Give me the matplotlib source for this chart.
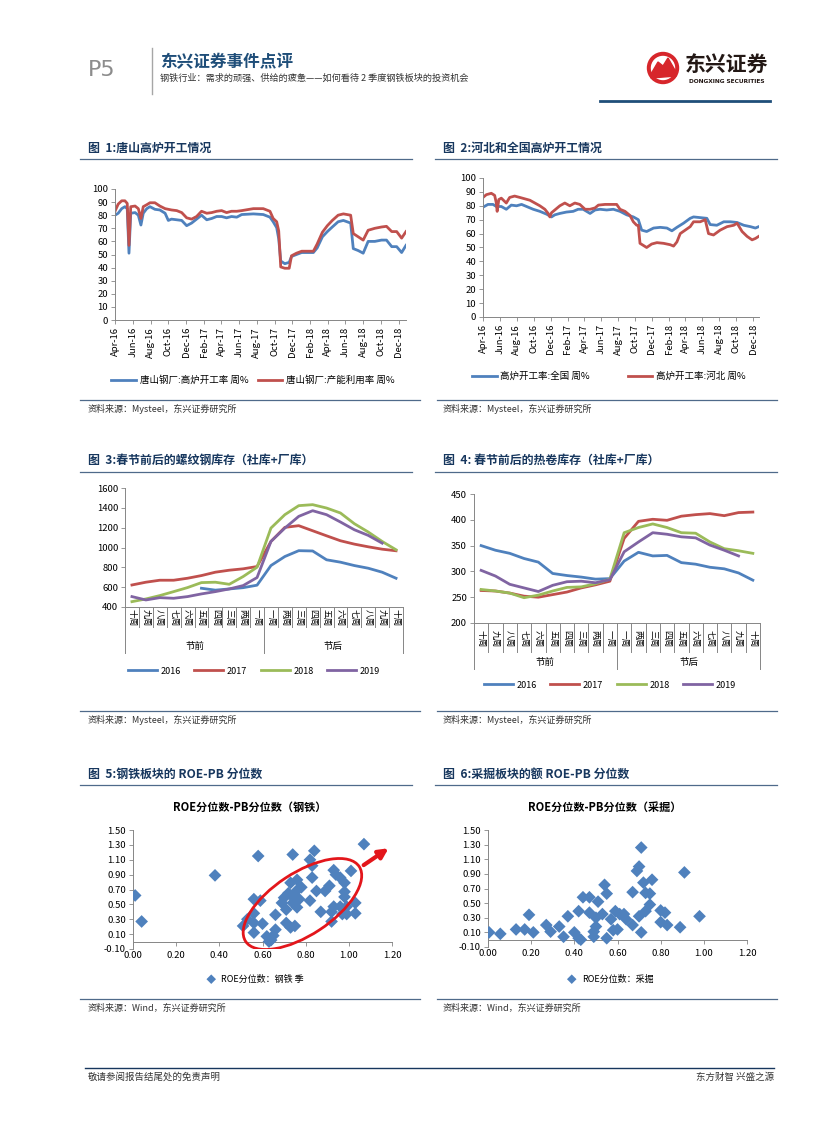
import numpy as np
import pandas as pd
import matplotlib
matplotlib.use('Agg')
import matplotlib.pyplot as plt
import matplotlib.dates as mdates
from matplotlib.patches import Ellipse, Circle, Polygon
from matplotlib.transforms import ScaledTranslation

plt.rcParams['font.family'] = ['Noto Sans CJK SC', 'DejaVu Sans']
plt.rcParams['axes.unicode_minus'] = False

# --- DATA ---
# chart 1: Tangshan (days since 2016-04-01)
t1_days = [0, 11, 23, 34, 42, 48, 54, 69, 80, 89, 97, 109, 120, 137, 154, 172, 183, 194, 212, 229,
           246, 263, 280, 297, 315, 332, 349, 366, 383, 400, 418, 435, 475, 509, 532, 543, 555, 562, 569, 583,
           598, 606, 623, 641, 681, 694, 712, 729, 746, 766, 784, 809, 818, 835, 852, 869, 892, 915, 932, 950,
           967, 984, 999]
ts_blast = [80, 81.5, 85, 86.5, 85, 51, 81.5, 82, 80, 72.5, 81.5, 85, 86.5, 84.5, 84, 81.5, 76, 77, 76.5, 76,
            72, 74, 77, 80, 76.5, 77.5, 79, 79, 78, 79, 78.5, 80.5, 81, 80.5, 78.5, 75, 70.5, 62, 45, 43,
            44, 48.5, 50, 51.5, 51.5, 55, 63.5, 67.5, 71, 75, 76, 74, 54.5, 53, 51, 60, 60, 61, 61, 56,
            56, 51.5, 57]
ts_capacity = [83, 88.5, 91, 91, 89, 57, 86.5, 87, 85, 77.5, 86.5, 88, 89.5, 89.5, 87, 85, 84.5, 84, 83.5, 82,
               78, 77, 79, 83, 81.5, 82, 83, 83.5, 82, 83, 83, 83.5, 85, 85, 83, 77.5, 75, 68, 40.5, 39.5,
               39.5, 49, 51, 52.5, 52.5, 58, 67, 72, 76, 80, 81, 80, 66, 63.5, 61, 68.5, 70, 71, 71.5, 67.5,
               67.5, 62.5, 67.5]

# chart 2: national vs Hebei
t2_nat_days = [0, 18, 36, 48, 66, 84, 102, 121, 139, 157, 181, 205, 229, 247, 259, 277, 301, 325, 343, 361,
               386, 404, 422, 446, 470, 494, 518, 542, 560, 572, 590, 615, 639, 663, 681, 699, 723, 747, 759, 783,
               807, 819, 843, 868, 892, 916, 940, 964, 982, 994]
nat_rate = [79, 81, 81, 79.5, 79.5, 77.5, 80.5, 80, 81, 79.5, 77.5, 76, 74, 72, 73.5, 74.5, 75.5, 76, 77.5, 77.5,
            74.5, 77, 77.5, 77, 77.5, 76, 73.5, 72, 70, 62.5, 61.5, 64, 64.5, 64, 62, 64.5, 67.5, 71, 72, 71.5,
            71, 66.5, 66, 68.5, 68.5, 68, 66, 65, 64, 65]
t2_hb_days = [0, 12, 30, 42, 48, 51, 57, 66, 84, 96, 114, 133, 151, 169, 187, 205, 223, 235, 241, 247,
              259, 277, 295, 313, 331, 349, 368, 386, 404, 416, 440, 464, 482, 494, 512, 530, 542, 554, 560, 566,
              590, 608, 627, 651, 675, 687, 699, 711, 729, 747, 759, 783, 801, 813, 831, 855, 880, 904, 916, 934,
              952, 970, 982, 994]
hb_rate = [86, 88, 89, 87.5, 82, 76, 84.5, 85.5, 82, 86, 87, 86, 85, 84, 82, 80, 77.5, 74.5, 72, 75,
           77, 80, 82, 80, 82, 81, 77.5, 77.5, 78.5, 80.5, 81, 81, 81, 77.5, 76, 73, 68.5, 66, 66, 53,
           50, 52.5, 53.5, 53, 52, 51, 54, 60, 62.5, 65, 68.5, 68.5, 70, 60, 59, 62.5, 65, 66, 67.5, 61.5,
           58, 55.5, 56.5, 58]

# chart 3 / 4: weeks around Spring Festival
weeks = ['十周', '九周', '八周', '七周', '六周', '五周', '四周', '三周', '两周', '一周',
         '一周', '两周', '三周', '四周', '五周', '六周', '七周', '八周', '九周', '十周']
groups = ['节前', '节后']
years = ['2016', '2017', '2018', '2019']
nan = np.nan
rebar = {
    '2016': [nan, nan, nan, nan, nan, 589, 570, 582, 595, 620, 818, 909, 968, 965, 876, 852, 818, 791, 751, 690],
    '2017': [622, 650, 670, 670, 690, 717, 751, 771, 785, 808, 1061, 1203, 1220, 1169, 1118, 1068, 1034, 1007, 983, 967],
    '2018': [454, 481, 515, 555, 596, 646, 650, 629, 707, 801, 1196, 1331, 1422, 1432, 1398, 1348, 1240, 1156, 1061, 977],
    '2019': [505, 471, 494, 488, 505, 532, 555, 582, 616, 697, 1061, 1196, 1314, 1371, 1331, 1257, 1179, 1122, 1044, nan],
}
hrc = {
    '2016': [350, 341, 335, 325, 318, 296, 292, 289, 285, 286, 320, 337, 330, 331, 317, 314, 308, 305, 297, 283],
    '2017': [263, 262, 258, 252, 250, 255, 260, 268, 274, 281, 364, 397, 401, 399, 407, 410, 412, 408, 414, 415],
    '2018': [265, 262, 258, 249, 254, 262, 269, 270, 276, 285, 375, 385, 392, 385, 375, 374, 357, 344, 340, 335],
    '2019': [302, 291, 275, 268, 261, 273, 280, 281, 278, 284, 338, 357, 375, 372, 367, 365, 351, 341, 330, nan],
}

# chart 5: steel ROE pct vs PB pct
steel_roe = [0.01, 0.04, 0.38, 0.58, 0.74, 0.84, 1.07, 0.82, 0.83, 0.83, 0.93, 0.94, 0.96, 0.98, 1.01,
             0.91, 0.89, 0.85, 0.78, 0.76, 0.73, 0.76, 0.72, 0.70, 0.69, 0.74, 0.77, 0.76, 0.82, 0.98,
             0.98, 0.93, 0.96, 0.99, 1.03, 0.87, 0.92, 0.97, 0.99, 1.03, 0.92, 0.56, 0.59, 0.56, 0.53,
             0.51, 0.56, 0.60, 0.56, 0.66, 0.71, 0.73, 0.75, 0.66, 0.62, 0.64, 0.65, 0.63, 0.71, 0.74]
steel_pb = [0.62, 0.27, 0.89, 1.15, 1.17, 1.22, 1.31, 1.10, 1.02, 0.86, 0.96, 0.90, 0.86, 0.79, 0.95,
            0.75, 0.68, 0.68, 0.73, 0.83, 0.79, 0.69, 0.65, 0.59, 0.52, 0.60, 0.57, 0.46, 0.55, 0.67,
            0.60, 0.47, 0.47, 0.47, 0.52, 0.40, 0.40, 0.37, 0.37, 0.38, 0.27, 0.57, 0.55, 0.38, 0.30,
            0.21, 0.25, 0.24, 0.12, 0.36, 0.25, 0.19, 0.21, 0.16, 0.07, 0.02, 0.08, 0.00, 0.43, 0.52]

# chart 6: mining ROE pct vs PB pct
mine_roe = [0.005, 0.057, 0.13, 0.17, 0.19, 0.21, 0.27, 0.29, 0.33, 0.35, 0.37, 0.40, 0.42, 0.43, 0.42,
            0.44, 0.47, 0.51, 0.47, 0.49, 0.49, 0.50, 0.50, 0.53, 0.54, 0.55, 0.55, 0.57, 0.58, 0.59,
            0.60, 0.61, 0.63, 0.64, 0.67, 0.67, 0.70, 0.69, 0.70, 0.71, 0.72, 0.71, 0.73, 0.75, 0.75,
            0.73, 0.76, 0.80, 0.82, 0.80, 0.83, 0.89, 0.91, 0.98]
mine_pb = [0.10, 0.08, 0.14, 0.14, 0.34, 0.10, 0.20, 0.11, 0.18, 0.04, 0.32, 0.10, 0.02, 0.00, 0.39,
           0.58, 0.58, 0.52, 0.37, 0.11, 0.04, 0.18, 0.30, 0.35, 0.75, 0.63, 0.02, 0.28, 0.13, 0.39,
           0.14, 0.35, 0.35, 0.28, 0.65, 0.20, 0.32, 0.94, 1.00, 1.26, 0.78, 0.10, 0.64, 0.63, 0.48,
           0.39, 0.82, 0.40, 0.37, 0.24, 0.20, 0.17, 0.92, 0.32]

# --- STYLE ---
W, H = 827, 1122
BLUE = '#4F81BD'
RED = '#C0504D'
GREEN = '#9BBB59'
PURPLE = '#8064A2'
year_colors = {'2016': BLUE, '2017': RED, '2018': GREEN, '2019': PURPLE}
NAVY = '#17375E'
AXIS = '#868686'
START = pd.Timestamp('2016-04-01')

fig = plt.figure(figsize=(W / 100, H / 100), dpi=100)

# background layer in pixel coords for the page decoration
bg = fig.add_axes([0, 0, 1, 1])
bg.set_xlim(0, W)
bg.set_ylim(H, 0)
bg.axis('off')


def ax_px(x0, y0, x1, y1):
    return fig.add_axes([x0 / W, 1 - y1 / H, (x1 - x0) / W, (y1 - y0) / H])


def style_axes(ax):
    for s in ['top', 'right']:
        ax.spines[s].set_visible(False)
    for s in ['left', 'bottom']:
        ax.spines[s].set_color(AXIS)
        ax.spines[s].set_linewidth(0.7)
    ax.tick_params(labelsize=6.8, length=3, width=0.6, color=AXIS, pad=2)
    ax.patch.set_alpha(0)


def fig_xy(x, y):
    return (x / W, 1 - y / H)


# --- PAGE HEADER ---
bg.text(102, 70, 'P5', fontsize=16, color='#8C8C8C', ha='center', va='center', family='DejaVu Sans')
bg.plot([152, 152], [48, 94], color='#A6A6A6', lw=1)
bg.text(160, 62, '东兴证券事件点评', fontsize=12, weight='bold', color='#1F4E79', va='center')
bg.text(160, 78, '钢铁行业：需求的顽强、供给的疲惫——如何看待 2 季度钢铁板块的投资机会',
        fontsize=6.6, color='#333333', va='center')
bg.plot([600, 770], [101, 101], color='#1F4E79', lw=2)
# logo
bg.add_patch(Circle((663, 68), 15.5, color='#D7262B'))
bg.add_patch(Circle((663, 68), 11.5, color='white'))
bg.add_patch(Polygon([(651, 74), (658, 62), (663, 66), (668, 58), (676, 72), (676, 76), (651, 78)],
                     closed=True, color='#D7262B'))
bg.text(727, 64, '东兴证券', fontsize=15, weight='bold', color='#231815', ha='center', va='center')
bg.text(727, 81, 'DONGXING SECURITIES', fontsize=4.2, weight='bold', color='#231815', ha='center',
        va='center', family='DejaVu Sans')

# --- SECTION TITLES, RULES AND SOURCES ---
titles = [(88, 148, '图  1:唐山高炉开工情况'), (443, 148, '图  2:河北和全国高炉开工情况'),
          (88, 460, '图  3:春节前后的螺纹钢库存（社库+厂库）'), (443, 460, '图  4: 春节前后的热卷库存（社库+厂库）'),
          (88, 774, '图  5:钢铁板块的 ROE-PB 分位数'), (443, 774, '图  6:采掘板块的额 ROE-PB 分位数')]
for x, y, s in titles:
    bg.text(x, y, s, fontsize=8.6, weight='bold', color=NAVY, va='center')
for y in [159, 472, 785]:
    bg.plot([80, 412], [y, y], color='#4F6A8A', lw=0.9)
    bg.plot([435, 777], [y, y], color='#4F6A8A', lw=0.9)
sources = [(400, 'Mysteel'), (711, 'Mysteel'), (999, 'Wind')]
for y, src in sources:
    bg.plot([80, 420], [y, y], color='#4F6A8A', lw=0.9)
    bg.plot([437, 777], [y, y], color='#4F6A8A', lw=0.9)
    for x in [88, 443]:
        bg.text(x, y + 9, '资料来源：' + src + '，东兴证券研究所', fontsize=6.5, style='italic',
                color='#333333', va='center')

# footer
bg.plot([85, 774], [1068, 1068], color='#17375E', lw=1)
bg.text(88, 1077, '敬请参阅报告结尾处的免责声明', fontsize=6.8, color='#333333', va='center')
bg.text(774, 1077, '东方财智 兴盛之源', fontsize=6.8, color='#333333', va='center', ha='right')


# --- CHART 1 / 2: weekly rates ---
def date_axis(ax, x_end_days):
    ax.set_xlim(START, START + pd.Timedelta(days=x_end_days))
    ax.set_ylim(0, 100)
    ax.set_yticks(range(0, 101, 10))
    ticks = pd.date_range('2016-04-01', '2018-12-01', freq='2MS')
    ax.set_xticks(ticks)
    ax.xaxis.set_major_formatter(mdates.DateFormatter('%b-%y'))
    ax.tick_params(axis='x', rotation=90)
    style_axes(ax)


ax1 = ax_px(115, 189, 406, 320)
d1 = START + pd.to_timedelta(t1_days, unit='D')
ax1.plot(d1, ts_blast, color=BLUE, lw=2, label='唐山钢厂:高炉开工率 周%')
ax1.plot(d1, ts_capacity, color=RED, lw=2, label='唐山钢厂:产能利用率 周%')
date_axis(ax1, 999)
ax1.legend(loc='center', bbox_to_anchor=fig_xy(253, 380), bbox_transform=fig.transFigure, ncol=2,
           frameon=False, fontsize=6.8, handlelength=2.6, columnspacing=1.0, handletextpad=0.4)

ax2 = ax_px(483, 178, 759, 317)
ax2.plot(START + pd.to_timedelta(t2_nat_days, unit='D'), nat_rate, color=BLUE, lw=2, label='高炉开工率:全国 周%')
ax2.plot(START + pd.to_timedelta(t2_hb_days, unit='D'), hb_rate, color=RED, lw=2, label='高炉开工率:河北 周%')
date_axis(ax2, 995)
ax2.legend(loc='center', bbox_to_anchor=fig_xy(609, 376), bbox_transform=fig.transFigure, ncol=2,
           frameon=False, fontsize=6.8, handlelength=2.6, columnspacing=4.0, handletextpad=0.4)


# --- CHART 3 / 4: inventory around Spring Festival ---
def festival_chart(ax, data, ylim, ystep, lvl1, lvl2, txt1, txt2, legend_xy):
    x = np.arange(len(weeks))
    for yr in years:
        ax.plot(x, data[yr], color=year_colors[yr], lw=2, label=yr)
    ax.set_xlim(-0.5, len(weeks) - 0.5)
    ax.set_ylim(*ylim)
    ax.set_yticks(np.arange(ylim[0], ylim[1] + 1, ystep))
    ax.set_xticks([])
    style_axes(ax)
    tr = ax.get_xaxis_transform()
    for b in np.arange(-0.5, len(weeks), 1):
        deep = b in (-0.5, 9.5, 19.5)
        ax.plot([b, b], [0, lvl2 if deep else lvl1], color=AXIS, lw=0.7, transform=tr, clip_on=False)
    for i, w in enumerate(weeks):
        ax.text(i, txt1, w, rotation=-90, ha='center', va='center', fontsize=6.2, transform=tr)
    ax.text(4.5, txt2, groups[0], ha='center', va='center', fontsize=6.8, transform=tr)
    ax.text(14.5, txt2, groups[1], ha='center', va='center', fontsize=6.8, transform=tr)
    ax.legend(loc='center', bbox_to_anchor=fig_xy(*legend_xy), bbox_transform=fig.transFigure, ncol=4,
              frameon=False, fontsize=6.5, handlelength=3.2, columnspacing=1.5, handletextpad=0.4)


ax3 = ax_px(125, 488, 403, 607)
festival_chart(ax3, rebar, (400, 1600), 200, -20 / 119, -46 / 119, -11 / 119, -39 / 119, (254, 671))

ax4 = ax_px(474, 494, 760, 623)
festival_chart(ax4, hrc, (200, 450), 50, -29 / 129, -46 / 129, -16 / 129, -39 / 129, (610, 685))


# --- CHART 5 / 6: ROE-PB percentile scatter ---
def scatter_chart(ax, xs, ys, title, label, title_xy, legend_xy):
    ax.scatter(xs, ys, marker='D', s=42, color=BLUE, edgecolors='none', label=label, zorder=3)
    ax.set_xlim(0, 1.2)
    ax.set_ylim(-0.1, 1.5)
    ax.set_xticks(np.arange(0, 1.21, 0.2))
    ax.set_yticks(np.arange(-0.1, 1.51, 0.2))
    ax.xaxis.set_major_formatter(matplotlib.ticker.FormatStrFormatter('%.2f'))
    ax.yaxis.set_major_formatter(matplotlib.ticker.FormatStrFormatter('%.2f'))
    style_axes(ax)
    ax.spines['bottom'].set_position(('data', 0))
    ax.tick_params(axis='x', pad=3.5)
    bg.text(title_xy[0], title_xy[1], title, fontsize=8, weight='bold', ha='center', va='center')
    ax.legend(loc='center', bbox_to_anchor=fig_xy(*legend_xy), bbox_transform=fig.transFigure,
              frameon=False, fontsize=6.5, handletextpad=0.1, markerscale=0.75)


ax5 = ax_px(133, 830, 392, 949)
scatter_chart(ax5, steel_roe, steel_pb, 'ROE分位数-PB分位数（钢铁）', 'ROE分位数：钢铁 季', (250, 807), (253, 979))
# red ellipse and arrow highlighting the cluster
ell = Ellipse((0, 0), width=1.36, height=0.62, angle=33.4, fill=False, edgecolor='#E3161B', lw=2,
              transform=fig.dpi_scale_trans + ScaledTranslation(0.785, 0.505, ax5.transData), zorder=4)
ax5.add_patch(ell)
ax5.annotate('', xy=(1.195, 1.276), xytext=(1.058, 1.007),
             arrowprops=dict(arrowstyle='-|>', color='#E3161B', lw=3, mutation_scale=14),
             annotation_clip=False)

ax6 = ax_px(488, 830, 747, 947)
scatter_chart(ax6, mine_roe, mine_pb, 'ROE分位数-PB分位数（采掘）', 'ROE分位数：采掘', (605, 807), (608, 979))

fig.savefig('out.png', dpi=100)
